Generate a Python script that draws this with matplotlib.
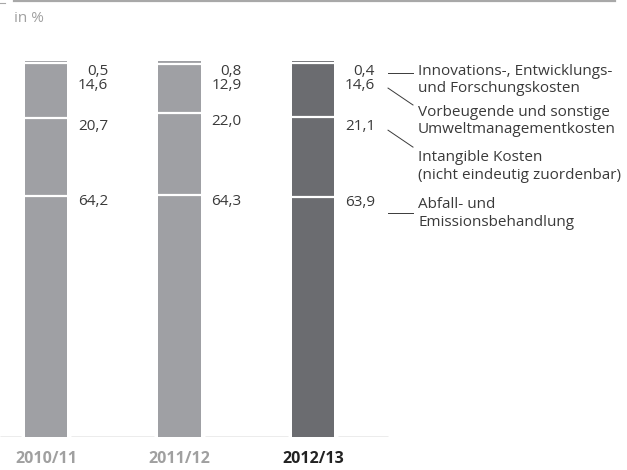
import matplotlib
matplotlib.use('Agg')
import matplotlib.pyplot as plt
from matplotlib.lines import Line2D

plt.rcParams['font.family'] = ['Open Sans', 'DejaVu Sans']

years = ['2010/11', '2011/12', '2012/13']
# shares per year, bottom to top
abfall = [64.2, 64.3, 63.9]
intangible = [20.7, 22.0, 21.1]
vorbeugend = [14.6, 12.9, 14.6]
innovation = [0.5, 0.8, 0.4]
legend_labels = ['Innovations-, Entwicklungs-\nund Forschungskosten',
                 'Vorbeugende und sonstige\nUmweltmanagementkosten',
                 'Intangible Kosten\n(nicht eindeutig zuordenbar)',
                 'Abfall- und\nEmissionsbehandlung']

LIGHT = '#9fa0a4'
DARK = '#6b6c70'
TXT = '#3a3a3a'
W = 0.315
FS = 11

fig = plt.figure(figsize=(6.27, 4.70), dpi=100)
ax = fig.add_axes([0, 33 / 470, 1, 376 / 470])
ax.set_xlim(-46 / 133.5, 581 / 133.5)
ax.set_ylim(0, 100)

segments = [abfall, intangible, vorbeugend, innovation]
for i in range(len(years)):
    col = DARK if i == 2 else LIGHT
    bottom = 0
    tops = []
    for seg in segments:
        ax.bar(i, seg[i], bottom=bottom, width=W, color=col, linewidth=0)
        bottom += seg[i]
        tops.append(bottom)
    # white separators between stacked parts
    for t in tops[:-1]:
        ax.hlines(t, i - W / 2 - 0.01, i + W / 2 + 0.01, color='white', lw=1.6)

    # value labels
    lx = i + W / 2 + 0.307
    ax.text(lx, abfall[i] - 1.6, f'{abfall[i]:.1f}'.replace('.', ','),
            ha='right', va='center', fontsize=FS, color=TXT)
    ax.text(lx, abfall[i] + intangible[i] - 2.4, f'{intangible[i]:.1f}'.replace('.', ','),
            ha='right', va='center', fontsize=FS, color=TXT)
    ax.text(lx, 97.2, f'{innovation[i]:.1f}'.replace('.', ','),
            ha='right', va='center', fontsize=FS, color=TXT)
    ax.text(lx, 93.4, f'{vorbeugend[i]:.1f}'.replace('.', ','),
            ha='right', va='center', fontsize=FS, color=TXT)

# broken baseline
gap = W / 2 + 0.03
xs = [ax.get_xlim()[0], -gap, gap, 1 - gap, 1 + gap, 2 - gap, 2 + gap, 2.56]
for a, b in zip(xs[0::2], xs[1::2]):
    ax.hlines(0, a, b, color='#a0a0a0', lw=1.0)

# legend texts with leader lines
tx = 2.787
x0, x1 = 2.562, 2.749
leg_y = [94.9, 84.0, 71.9, 59.4]
leaders = [((x0, 96.8), (x1, 96.8)),
           ((x0, 92.8), (x1, 88.3)),
           ((x0, 81.6), (x1, 77.1)),
           ((x0, 59.6), (x1, 59.6))]
for lab, y, (p, q) in zip(legend_labels, leg_y, leaders):
    ax.text(tx, y, lab, ha='left', va='center', fontsize=FS, color=TXT,
            linespacing=1.22)
    ax.plot([p[0], q[0]], [p[1], q[1]], color=TXT, lw=0.7)

ax.set_xticks(range(len(years)))
ax.set_xticklabels(years, fontsize=11.5, fontweight='bold')
for i, t in enumerate(ax.get_xticklabels()):
    t.set_color('#222222' if i == 2 else '#a0a0a0')
ax.tick_params(axis='x', length=0, pad=10)
ax.set_yticks([])
ax.spines[['top', 'bottom', 'left', 'right']].set_visible(False)
ax.patch.set_visible(False)

# header rule and unit
fig.add_artist(Line2D([14 / 627, 615 / 627], [1 - 1.2 / 470] * 2,
                      color='#a8a8a8', lw=1.6))
fig.add_artist(Line2D([0, 5 / 627], [1 - 3 / 470] * 2, color='#a8a8a8', lw=0.8))
fig.text(14 / 627, 1 - 18 / 470, 'in %', ha='left', va='center',
         fontsize=11, color='#a0a0a0')

fig.savefig('out.png', dpi=100)
